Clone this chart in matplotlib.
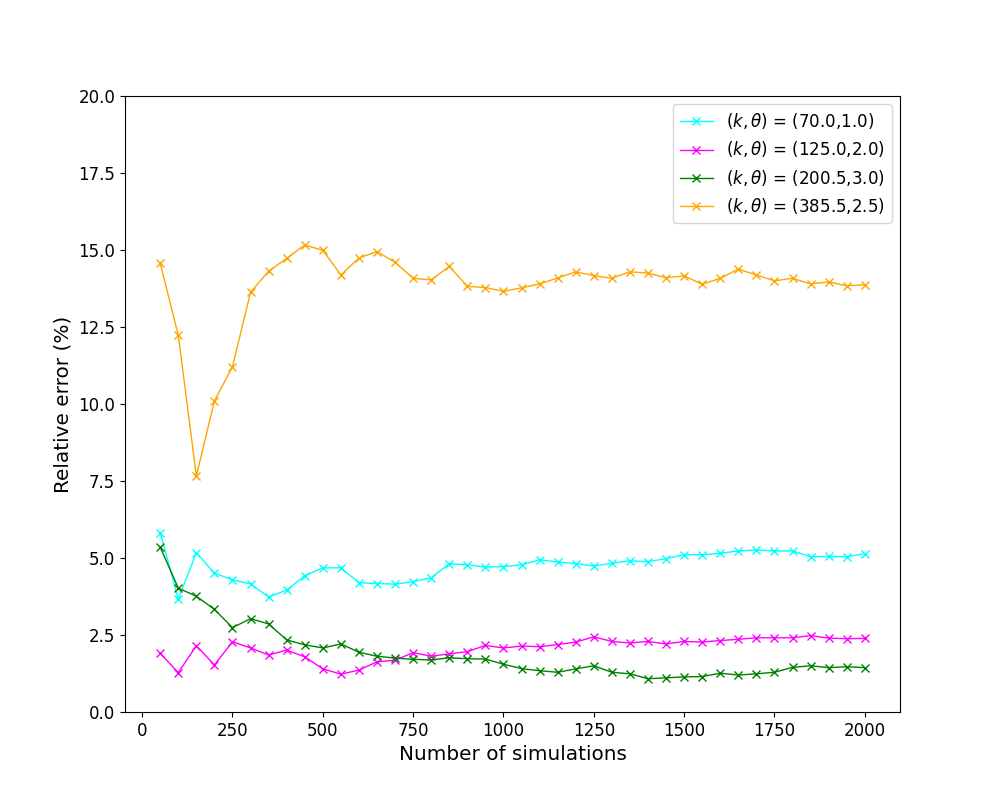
import numpy as np
import matplotlib
matplotlib.use("Agg")
import matplotlib.pyplot as plt

n_sims = list(range(50, 2001, 50))

labels = [r"$(k,\theta)$ = (70.0,1.0)",
          r"$(k,\theta)$ = (125.0,2.0)",
          r"$(k,\theta)$ = (200.5,3.0)",
          r"$(k,\theta)$ = (385.5,2.5)"]
colors = ["cyan", "magenta", "green", "orange"]

err_cyan = [5.82, 3.67, 5.17, 4.51, 4.29, 4.16, 3.73, 3.96, 4.42, 4.68,
            4.68, 4.20, 4.17, 4.15, 4.23, 4.36, 4.81, 4.78, 4.71, 4.72,
            4.78, 4.94, 4.87, 4.82, 4.74, 4.83, 4.91, 4.88, 4.98, 5.11,
            5.11, 5.15, 5.23, 5.26, 5.23, 5.23, 5.04, 5.05, 5.04, 5.14]
err_magenta = [1.90, 1.28, 2.15, 1.53, 2.28, 2.08, 1.85, 2.01, 1.79, 1.40,
               1.23, 1.36, 1.63, 1.68, 1.93, 1.81, 1.89, 1.96, 2.16, 2.08,
               2.14, 2.12, 2.19, 2.27, 2.44, 2.29, 2.24, 2.29, 2.21, 2.29,
               2.27, 2.32, 2.36, 2.41, 2.41, 2.41, 2.48, 2.40, 2.38, 2.39]
err_green = [5.35, 4.02, 3.76, 3.33, 2.74, 3.03, 2.86, 2.34, 2.18, 2.08,
             2.21, 1.94, 1.81, 1.75, 1.71, 1.69, 1.76, 1.73, 1.72, 1.55,
             1.41, 1.34, 1.29, 1.40, 1.50, 1.29, 1.24, 1.08, 1.11, 1.14,
             1.15, 1.26, 1.20, 1.24, 1.29, 1.45, 1.50, 1.44, 1.47, 1.44]
err_orange = [14.57, 12.23, 7.66, 10.10, 11.21, 13.63, 14.31, 14.73, 15.16, 14.99,
              14.19, 14.74, 14.95, 14.60, 14.08, 14.03, 14.47, 13.82, 13.78, 13.66,
              13.77, 13.90, 14.09, 14.29, 14.17, 14.08, 14.29, 14.25, 14.10, 14.16,
              13.89, 14.08, 14.38, 14.19, 14.00, 14.08, 13.90, 13.96, 13.84, 13.87]

series = [err_cyan, err_magenta, err_green, err_orange]

fig, ax = plt.subplots(figsize=(10, 8), dpi=100)
for vals, lab, c in zip(series, labels, colors):
    ax.plot(n_sims, vals, marker="x", color=c, linewidth=1, label=lab)

ax.set_ylim(0, 20)
ax.set_yticks(np.arange(0, 20.1, 2.5))
ax.set_xlabel("Number of simulations", fontsize=14.4)
ax.set_ylabel("Relative error (%)", fontsize=14.4)
ax.tick_params(labelsize=12)
ax.legend(loc="upper right", fontsize=12)

fig.savefig("out.png")
